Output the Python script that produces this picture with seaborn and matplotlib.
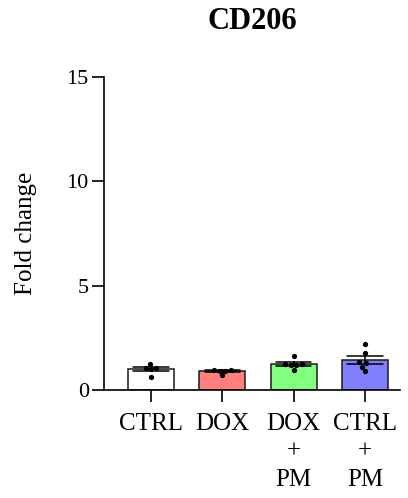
import pandas as pd
import numpy as np
import matplotlib.pyplot as plt
import seaborn as sns

# values (fold change per replicate)
groups = ["CTRL", "DOX", "DOX\n+\nPM", "CTRL\n+\nPM"]
ctrl = [1.25, 1.06, 1.00, 1.04, 0.62]
dox = [0.97, 0.93, 0.95, 0.92, 0.70]
dox_pm = [1.62, 1.24, 1.20, 1.18, 1.22, 0.96]
ctrl_pm = [2.22, 1.76, 1.32, 1.28, 1.12, 0.90]
bar_colors = ["#FFFFFF", "#FF7F7F", "#80FF80", "#8080FF"]

data = pd.DataFrame({
    "group": [groups[0]] * len(ctrl) + [groups[1]] * len(dox)
             + [groups[2]] * len(dox_pm) + [groups[3]] * len(ctrl_pm),
    "value": ctrl + dox + dox_pm + ctrl_pm,
})

sns.set_style("ticks")
plt.rcParams['font.family'] = ['Liberation Serif', 'DejaVu Serif']
plt.rcParams['text.color'] = 'black'
plt.rcParams['axes.labelcolor'] = 'black'
plt.rcParams['xtick.color'] = 'black'
plt.rcParams['ytick.color'] = 'black'

fig = plt.figure(figsize=(4.08, 4.98), dpi=100)
ax = fig.add_axes([0.255, 0.217, 0.725, 0.628])

sns.barplot(data=data, x="group", y="value", order=groups, hue="group",
            palette=bar_colors, saturation=1, legend=False, errorbar="se",
            capsize=0.5, width=0.645, edgecolor="#1a1a1a", linewidth=1.1,
            err_kws={"color": "black", "linewidth": 1.1}, ax=ax)
sns.swarmplot(data=data, x="group", y="value", order=groups, color="black",
              size=3.8, ax=ax)

ax.set_ylim(0, 15)
ax.set_xlim(-0.66, 3.49)
ax.set_yticks([0, 5, 10, 15])
ax.set_xlabel("")
ax.set_ylabel("Fold change", fontsize=18, labelpad=21)
ax.set_title("CD206", fontsize=22, fontweight="bold", pad=35)

ax.tick_params(axis="y", labelsize=16, length=9, width=1.2, pad=2)
ax.tick_params(axis="x", labelsize=18, length=8.5, width=1.2, pad=8)
for lab in ax.get_xticklabels():
    lab.set_linespacing(1.35)
    lab.set_verticalalignment("top")

sns.despine(ax=ax, top=True, right=True)
for s in ["left", "bottom"]:
    ax.spines[s].set_linewidth(1.2)
    ax.spines[s].set_color("black")

fig.savefig("out.png", dpi=100)
